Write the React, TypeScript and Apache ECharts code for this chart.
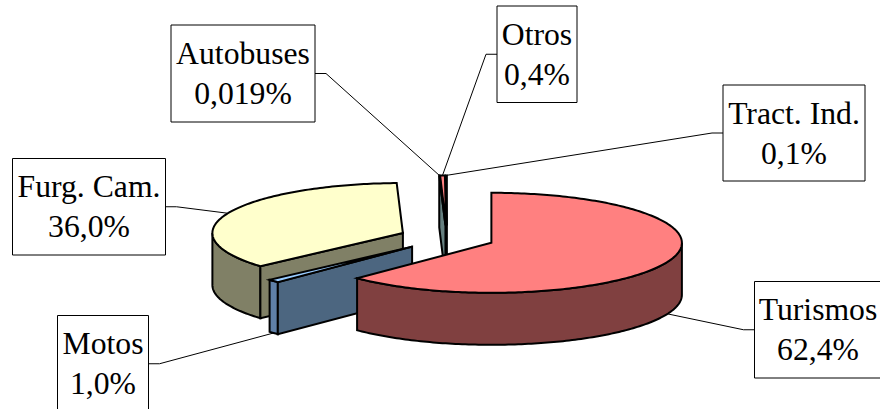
import React, { useEffect, useRef } from "react";
import * as echarts from "echarts";

const categories = ["Turismos", "Motos", "Furg. Cam.", "Autobuses", "Otros", "Tract. Ind."];
const shares = [62.4, 1.0, 36.0, 0.019, 0.4, 0.1];
const shareLabels = ["62,4%", "1,0%", "36,0%", "0,019%", "0,4%", "0,1%"];

// Styling: top colour, rim-wall colour, radial-wall colour
const topColors = ["#FF8080", "#99CCFF", "#FFFFCC", "#CCFFFF", "#FF8080", "#FF8080"];
const rimColors = ["#804040", "#5F80A8", "#808066", "#668080", "#804040", "#804040"];
const wallColors = ["#804040", "#4C6680", "#808066", "#668080", "#804040", "#804040"];

// Back-to-front painting order (indices into categories)
const paintOrder = [5, 4, 3, 2, 1, 0];

// Layout of the label boxes [left, top, right, bottom] and side of the leader
const boxes: [number, number, number, number, number][] = [
  [754.5, 281.5, 893, 378, -1],
  [57.5, 315.5, 148.5, 412, 1],
  [12.5, 158.5, 165.5, 255, 1],
  [171, 25, 315, 122, 1],
  [497, 6, 577, 102.5, -1],
  [723, 85, 865, 181, -1],
];

const CX = 447;
const CY = 238;
const RX = 190.5;
const RY = 50;
const DEPTH = 52;
const EXPLODE = 0.252;
const FONT = '31.7px "Liberation Serif", serif';

const total = shares.reduce((a, b) => a + b, 0);
const angles = (() => {
  let acc = 0;
  return shares.map((v) => {
    const start = acc;
    acc += (v / total) * 360;
    return { start, end: acc, mid: (start + acc) / 2 };
  });
})();

const rad = (d: number) => (d * Math.PI) / 180;

function apexOf(i: number): [number, number] {
  const m = rad(angles[i].mid);
  return [CX + EXPLODE * RX * Math.sin(m), CY - EXPLODE * RY * Math.cos(m)];
}

function rimPoint(a: [number, number], deg: number, dy = 0): [number, number] {
  return [a[0] + RX * Math.sin(rad(deg)), a[1] - RY * Math.cos(rad(deg)) + dy];
}

function arcPoints(a: [number, number], from: number, to: number, dy = 0) {
  const pts: [number, number][] = [];
  const n = Math.max(1, Math.ceil(Math.abs(to - from)));
  for (let k = 0; k <= n; k++) pts.push(rimPoint(a, from + ((to - from) * k) / n, dy));
  return pts;
}

function face(points: [number, number][], fill: string) {
  return {
    type: "polygon",
    silent: true,
    shape: { points },
    style: { fill, stroke: "#000000", lineWidth: 2, lineJoin: "miter", miterLimit: 6 },
  };
}

function renderSlice(_params: any, api: any) {
  const i = api.value(0) as number;
  const { start, end } = angles[i];
  const a = apexOf(i);
  const lowered: [number, number] = [a[0], a[1] + DEPTH];
  const children: any[] = [];

  // Outer wall: only the front half of the rim (90..270 clockwise from the top)
  const from = Math.max(start, 90);
  const to = Math.min(end, 270);
  if (to > from) {
    children.push(
      face([...arcPoints(a, from, to), ...arcPoints(a, to, from, DEPTH)], rimColors[i])
    );
  }
  // Radial walls facing the viewer
  if (Math.sin(rad(start)) < 0) {
    children.push(face([a, rimPoint(a, start), rimPoint(a, start, DEPTH), lowered], wallColors[i]));
  }
  if (Math.sin(rad(end)) > 0) {
    children.push(face([a, rimPoint(a, end), rimPoint(a, end, DEPTH), lowered], wallColors[i]));
  }
  // Top
  children.push(face([a, ...arcPoints(a, start, end)], topColors[i]));
  return { type: "group", children };
}

function renderLabel(_params: any, api: any) {
  const i = api.value(0) as number;
  const [l, t, r, b, side] = boxes[i];
  const a = apexOf(i);
  const m = angles[i].mid;
  const anchor = rimPoint(a, m, Math.cos(rad(m)) < 0 ? DEPTH : 0);
  const sideX = side > 0 ? r : l;
  const midY = (t + b) / 2;
  return {
    type: "group",
    children: [
      {
        type: "polyline",
        silent: true,
        shape: { points: [[sideX, midY], [sideX + side * 11, midY], anchor] },
        style: { fill: "none", stroke: "#000000", lineWidth: 1 },
      },
      {
        type: "rect",
        silent: true,
        shape: { x: l, y: t, width: r - l, height: b - t },
        style: { fill: "#FFFFFF", stroke: "#000000", lineWidth: 1 },
      },
      {
        type: "text",
        silent: true,
        style: {
          x: i === 0 ? 818 : (l + r) / 2,
          y: midY,
          text: `${categories[i]}\n${shareLabels[i]}`,
          font: FONT,
          fill: "#000000",
          align: "center",
          verticalAlign: "middle",
          lineHeight: 40,
        },
      },
    ],
  };
}

export default function App() {
  const ref = useRef<HTMLDivElement>(null);
  useEffect(() => {
    document.body.style.margin = "0";
    const chart = echarts.init(ref.current!, null, { renderer: "svg" });
    chart.setOption({
      animation: false,
      backgroundColor: "#FFFFFF",
      series: [
        {
          type: "custom",
          coordinateSystem: "none",
          z: 2,
          silent: true,
          renderItem: renderSlice,
          data: paintOrder.map((i) => [i, shares[i]]),
        },
        {
          type: "custom",
          coordinateSystem: "none",
          z: 3,
          silent: true,
          renderItem: renderLabel,
          data: categories.map((_, i) => [i, shares[i]]),
        },
      ],
    });
    return () => chart.dispose();
  }, []);
  return <div ref={ref} style={{ width: 880, height: 409 }} />;
}
